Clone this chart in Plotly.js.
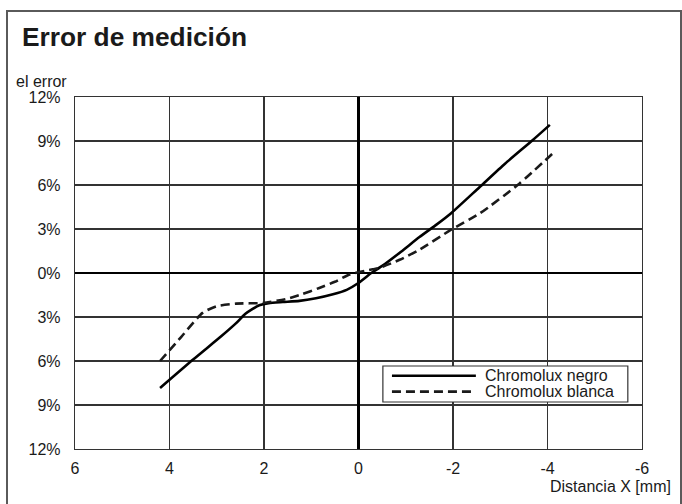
<!DOCTYPE html>
<html>
<head>
<meta charset="utf-8">
<script src="https://cdn.plot.ly/plotly-3.0.1.min.js"></script>
<style>
  html, body { margin: 0; padding: 0; background: #fff; }
  #wrap { position: relative; width: 682px; height: 504px; overflow: hidden; }
  #chart { width: 682px; height: 504px; }
  #frame { position: absolute; left: 6px; top: 10px; width: 672px; height: 500px;
           border: 2px solid #5a5a5a; pointer-events: none; }
</style>
</head>
<body>
<div id="wrap">
  <div id="chart"></div>
  <div id="frame"></div>
</div>
<script>
// ---- data ----
const negroX = [4.2, 3.5, 2.9, 2.59, 2.4, 2.24, 2.1, 1.9, 1.6, 1.25, 0.9, 0.54, 0.25, 0.01, -0.27, -0.51, -0.9, -1.29, -1.65, -1.96, -2.56, -3.1, -3.69, -4.05];
const negroY = [-7.84, -5.9, -4.3, -3.42, -2.8, -2.45, -2.2, -2.06, -1.98, -1.9, -1.72, -1.45, -1.15, -0.7, 0.0, 0.5, 1.45, 2.45, 3.3, 4.08, 5.85, 7.45, 9.07, 10.1];
const blancaX = [4.2, 3.75, 3.3, 3.01, 2.59, 2.02, 1.53, 1.2, 0.83, 0.5, 0.19, -0.3, -0.44, -0.87, -1.29, -1.96, -2.57, -3.41, -4.15];
const blancaY = [-6.0, -4.35, -2.72, -2.27, -2.09, -2.04, -1.77, -1.45, -1.02, -0.6, -0.1, 0.25, 0.35, 0.9, 1.59, 2.95, 4.07, 6.11, 8.27];
const seriesNames = ["Chromolux negro", "Chromolux blanca"];
const yTickVals = [-12, -9, -6, -3, 0, 3, 6, 9, 12];
const yTickText = ["12%", "9%", "6%", "3%", "0%", "3%", "6%", "9%", "12%"];
const xTickVals = [6, 4, 2, 0, -2, -4, -6];
const xTickText = ["6", "4", "2", "0", "-2", "-4", "-6"];

const FONT = "Liberation Sans, Arial, Helvetica, sans-serif";
const TXT = "#1a1a1a";
const FS = 16;

const traces = [
  { x: negroX, y: negroY, name: seriesNames[0], type: "scatter", mode: "lines",
    line: { color: "#000", width: 2.6, shape: "spline", smoothing: 0.6 }, showlegend: false },
  { x: blancaX, y: blancaY, name: seriesNames[1], type: "scatter", mode: "lines",
    line: { color: "#1a1a1a", width: 2.6, dash: "9px,5px", shape: "spline", smoothing: 0.6 }, showlegend: false }
];

// legend (drawn manually to get the long line samples)
const lg = { x0: 0.543, x1: 0.975, y0: 0.1335, y1: 0.2358, lx0: 0.559, lx1: 0.707, tx: 0.720, ya: 0.208, yb: 0.163 };

const layout = {
  width: 682, height: 504,
  margin: { l: 75, r: 40, t: 97, b: 55 },
  paper_bgcolor: "#fff", plot_bgcolor: "#fff",
  font: { family: FONT, size: FS, color: TXT },
  title: { text: "<b>Error de medición</b>", xref: "container", yref: "container",
           x: 22 / 682, xanchor: "left", y: 1 - 37 / 504, yanchor: "middle",
           font: { family: FONT, size: 26.3, color: TXT } },
  xaxis: {
    range: [6, -6], tickvals: xTickVals, ticktext: xTickText,
    showgrid: true, gridcolor: "#333", gridwidth: 1.2,
    zeroline: true, zerolinecolor: "#000", zerolinewidth: 2.6,
    showline: true, linecolor: "#333", linewidth: 1.2, mirror: true,
    ticks: "", ticklabelstandoff: 5, tickfont: { size: FS, color: TXT }
  },
  yaxis: {
    range: [-12, 12], tickvals: yTickVals, ticktext: yTickText,
    showgrid: true, gridcolor: "#333", gridwidth: 1.2,
    zeroline: true, zerolinecolor: "#000", zerolinewidth: 2.6,
    showline: true, linecolor: "#333", linewidth: 1.2, mirror: true,
    ticks: "", ticklabelstandoff: 10, tickfont: { size: FS, color: TXT }
  },
  annotations: [
    { text: "el error", xref: "paper", yref: "paper", x: (14 - 75) / 567, y: (449 - 81) / 352,
      xanchor: "left", yanchor: "middle", showarrow: false, font: { size: FS, color: TXT } },
    { text: "Distancia X [mm]", xref: "paper", yref: "paper", x: (673 - 75) / 567, y: (449 - 486) / 352,
      xanchor: "right", yanchor: "middle", showarrow: false, font: { size: FS, color: TXT } },
    { text: seriesNames[0], xref: "paper", yref: "paper", x: lg.tx, y: lg.ya,
      xanchor: "left", yanchor: "middle", showarrow: false, font: { size: FS, color: TXT } },
    { text: seriesNames[1], xref: "paper", yref: "paper", x: lg.tx, y: lg.yb,
      xanchor: "left", yanchor: "middle", showarrow: false, font: { size: FS, color: TXT } }
  ],
  shapes: [
    { type: "rect", xref: "paper", yref: "paper", x0: lg.x0, x1: lg.x1, y0: lg.y0, y1: lg.y1,
      fillcolor: "#fff", line: { color: "#333", width: 1.2 }, layer: "above" },
    { type: "line", xref: "paper", yref: "paper", x0: lg.lx0, x1: lg.lx1, y0: lg.ya, y1: lg.ya,
      line: { color: "#000", width: 2.6 }, layer: "above" },
    { type: "line", xref: "paper", yref: "paper", x0: lg.lx0, x1: lg.lx1, y0: lg.yb, y1: lg.yb,
      line: { color: "#1a1a1a", width: 2.6, dash: "9px,5px" }, layer: "above" }
  ],
  showlegend: false
};

Plotly.newPlot("chart", traces, layout, { displayModeBar: false, staticPlot: true });
</script>
</body>
</html>
